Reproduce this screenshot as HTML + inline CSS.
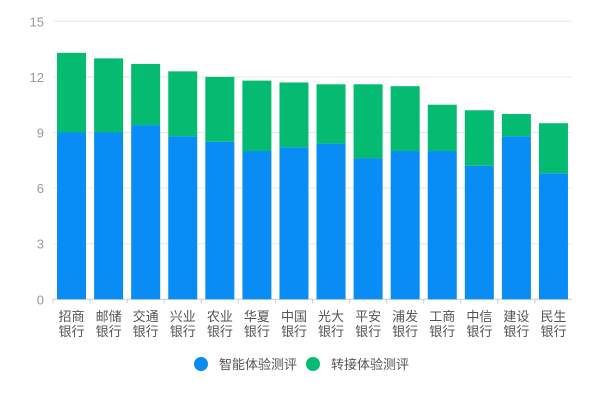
<!DOCTYPE html>
<html><head><meta charset="utf-8"><style>
body{margin:0;background:#fff;}
svg{display:block;font-family:"Liberation Sans","Noto Sans CJK SC",sans-serif;}
</style></head><body>
<svg id="chart" width="600" height="400"></svg>
<script>
const categories=["招商银行","邮储银行","交通银行","兴业银行","农业银行","华夏银行","中国银行","光大银行","平安银行","浦发银行","工商银行","中信银行","建设银行","民生银行"];
const smartValues=[9.0,9.0,9.4,8.8,8.5,8.0,8.2,8.4,7.6,8.0,8.0,7.2,8.8,6.8];
const transferValues=[4.3,4.0,3.3,3.5,3.5,3.8,3.5,3.2,4.0,3.5,2.5,3.0,1.2,2.7];
const yTicks=[0,3,6,9,12,15];
const seriesNames=["智能体验测评","转接体验测评"];
const svg=document.getElementById('chart');
const NS='http://www.w3.org/2000/svg';
const x0=53,x1=572,y0=299.3,y1=21.3,yMax=15;
const band=(x1-x0)/categories.length,barW=29;
const y=v=>y0-(v/yMax)*(y0-y1);
const xc=i=>x0+band*(i+0.5);
function mk(t,a,p){const e=document.createElementNS(NS,t);for(const k in a)e.setAttribute(k,a[k]);(p||svg).appendChild(e);return e;}
yTicks.forEach(t=>{
  const g=mk('line',{x1:x0,x2:x1,y1:y(t),y2:y(t),stroke:t===0?'#ccc':'#e6e6e6','stroke-width':1});
  
  
  const l=mk('text',{x:44,y:y(t)+5,'text-anchor':'end','font-size':13,fill:'#999'});
  l.textContent=t;
  
  
});
categories.forEach((c,i)=>{
  const tk=mk('line',{x1:x0+band*i,x2:x0+band*i,y1:y0,y2:y0+4,stroke:'#ccc'});
  
  
  const b=mk('rect',{x:xc(i)-barW/2,y:y(smartValues[i]),width:barW,height:y0-y(smartValues[i]),fill:'#0a8cf5'});
  
  
  const tot=smartValues[i]+transferValues[i];
  const g=mk('rect',{x:xc(i)-barW/2,y:y(tot),width:barW,height:y(smartValues[i])-y(tot),fill:'#05bb72'});
  
  
  const t=mk('text',{x:xc(i),y:321,'text-anchor':'middle','font-size':13,fill:'#555'});
  
  
  mk('tspan',{x:xc(i),y:321},t).textContent=c.slice(0,2);
  mk('tspan',{x:xc(i),y:336},t).textContent=c.slice(2);
});
const lg=[[201,219,'#0a8cf5'],[313,331,'#05bb72']];
lg.forEach((L,k)=>{
  const c=mk('circle',{cx:L[0],cy:364,r:7,fill:L[2]});
  
  
  const t=mk('text',{x:L[1],y:369,'font-size':13,fill:'#555'});
  t.textContent=seriesNames[k];
  
  
});
</script>
</body></html>
